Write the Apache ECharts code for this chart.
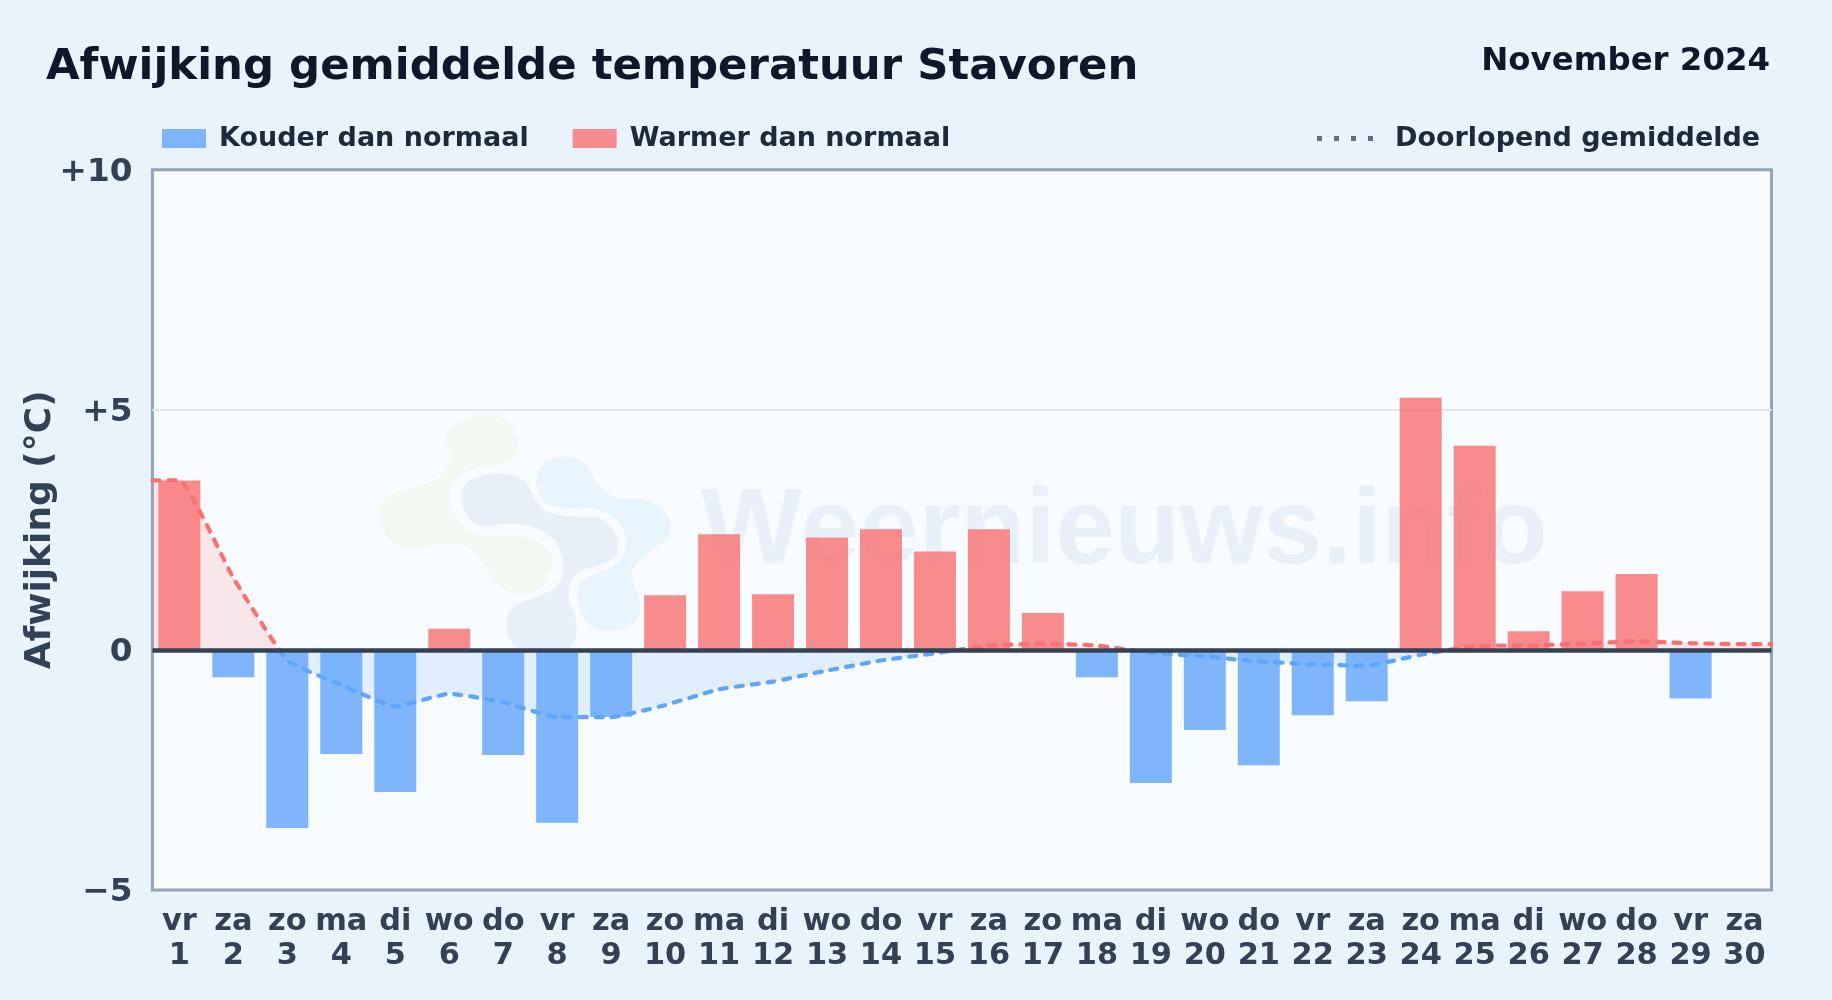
<!DOCTYPE html>
<html>
<head>
<meta charset="utf-8">
<style>html,body{margin:0;padding:0;background:#e8f3fc}#c{width:1832px;height:1000px}</style>
<script src="https://cdn.jsdelivr.net/npm/echarts@6/dist/echarts.min.js"></script>
</head>
<body>
<div id="c"></div>
<script>
const dayNames = ['vr','za','zo','ma','di','wo','do','vr','za','zo','ma','di','wo','do','vr','za','zo','ma','di','wo','do','vr','za','zo','ma','di','wo','do','vr','za'];
const dayNumbers = [1,2,3,4,5,6,7,8,9,10,11,12,13,14,15,16,17,18,19,20,21,22,23,24,25,26,27,28,29,30];
const coldValues = [null,-0.57,-3.71,-2.17,-2.96,null,-2.19,-3.60,-1.39,null,null,null,null,null,null,null,null,-0.57,-2.77,-1.67,-2.40,-1.36,-1.07,null,null,null,null,null,-1.01,null];
const warmValues = [3.53,null,null,null,null,0.44,null,null,null,1.14,2.41,1.16,2.34,2.51,2.05,2.51,0.77,null,null,null,null,null,null,5.25,4.25,0.39,1.22,1.58,null,null];
const runningMean = [3.53,1.5,-0.22,-0.73,-1.18,-0.91,-1.09,-1.40,-1.40,-1.15,-0.82,-0.66,-0.43,-0.22,-0.07,0.09,0.13,0.09,-0.06,-0.14,-0.24,-0.30,-0.33,-0.10,0.08,0.09,0.13,0.18,0.14,0.12];
const yTicks = {'10':'+10','5':'+5','0':'0','-5':'\u22125'};
const titleText = 'Afwijking gemiddelde temperatuur Stavoren';
const periodText = 'November 2024';
const legendCold = 'Kouder dan normaal';
const legendWarm = 'Warmer dan normaal';
const legendMean = 'Doorlopend gemiddelde';
const watermarkText = 'Weernieuws.info';
const logoGreen = [[260,100],[350,45],[440,60],[475,130],[450,185],[350,205],[290,235],[270,300],[300,370],[360,405],[470,405],[540,430],[580,480],[545,560],[470,580],[410,550],[370,490],[320,440],[250,430],[160,445],[90,420],[55,345],[90,285],[170,260],[240,230],[270,170]];
const logoSlate = [[305,280],[340,235],[420,222],[490,240],[520,290],[560,335],[640,350],[720,355],[770,410],[765,470],[700,500],[650,520],[625,580],[650,680],[620,745],[480,745],[440,680],[460,620],[530,590],[590,560],[610,500],[590,430],[530,385],[450,370],[370,378],[320,345]];
const logoSky = [[530,230],[560,185],[620,170],[680,195],[710,250],[770,295],[860,300],[925,350],[925,410],[880,445],[830,490],[815,530],[840,610],[825,665],[760,692],[690,675],[655,610],[660,550],[700,525],[770,490],[800,430],[770,360],[700,325],[620,325],[560,310],[535,270]];

const F = '"DejaVu Sans"';
const meanPoints = [[0, runningMean[0]]]
  .concat(runningMean.map((v, i) => [i + 0.5, v]))
  .concat([[30, runningMean[runningMean.length - 1]]]);
// rounded outline for the faint background logo
const roundOutline = pts => {
  const n = pts.length, out = [];
  for (let i = 0; i < n; i++) {
    const a = pts[(i - 1 + n) % n], b = pts[i], c = pts[(i + 1) % n], d = pts[(i + 2) % n];
    for (let k = 0; k < 8; k++) {
      const t = k / 8, t2 = t * t, t3 = t2 * t;
      out.push([0, 1].map(j => 0.5 * (2 * b[j] + (c[j] - a[j]) * t + (2 * a[j] - 5 * b[j] + 4 * c[j] - d[j]) * t2 + (3 * b[j] - a[j] - 3 * c[j] + d[j]) * t3)));
    }
  }
  return out;
};
const blob = (pts, fill) => ({
  type: 'polygon', x: 360, y: 400, scaleX: 1 / 3, scaleY: 1 / 3, silent: true,
  shape: { points: roundOutline(pts) }, style: { fill: fill }
});
const chart = echarts.init(document.getElementById('c'), null, { renderer: 'canvas' });
chart.setOption({
  animation: false,
  backgroundColor: '#e8f3fc',
  title: [
    { text: titleText, left: 46, top: 46.5, padding: 0, textStyle: { fontFamily: F, fontWeight: 'bold', fontSize: 43.4, color: '#0f172a' } },
    { text: periodText, right: 62, top: 46, padding: 0, textStyle: { fontFamily: F, fontWeight: 'bold', fontSize: 32.4, color: '#0f172a' } }
  ],
  legend: [
    { data: [{ name: legendCold, icon: 'rect' }, { name: legendWarm, icon: 'rect' }], left: 162, top: 125, padding: 0, itemWidth: 44, itemHeight: 19, itemGap: 44,
      textStyle: { fontFamily: F, fontWeight: 'bold', fontSize: 27, color: '#1e293b', padding: [0, 0, 0, 8] } },
    { data: [{ name: legendMean, icon: 'path://M0 0h5v5h-5zM17 0h5v5h-5zM34 0h5v5h-5zM51 0h5v5h-5z', itemStyle: { color: '#5f6f86', opacity: 1 } }],
      left: 1317, top: 125, padding: 0, itemWidth: 56, itemHeight: 5,
      textStyle: { fontFamily: F, fontWeight: 'bold', fontSize: 27, color: '#1e293b', padding: [0, 0, 0, 17] } }
  ],
  grid: { left: 152.4, top: 169.7, width: 1619.1, height: 720.3, show: true, backgroundColor: '#f8fbff', borderColor: '#94a3b8', borderWidth: 3 },
  xAxis: [
    { type: 'category', data: dayNames.map((d, i) => d + '\n' + dayNumbers[i]), position: 'bottom',
      axisLine: { show: false }, axisTick: { show: false }, splitLine: { show: false },
      axisLabel: { interval: 0, margin: 15, fontFamily: F, fontWeight: 'bold', fontSize: 30.4, lineHeight: 34, color: '#334155' } },
    { type: 'value', min: 0, max: 30, show: false }
  ],
  yAxis: {
    type: 'value', min: -5, max: 10, interval: 5,
    name: 'Afwijking (\u00b0C)', nameLocation: 'middle', nameRotate: 90, nameGap: 94, nameMoveOverlap: false,
    nameTextStyle: { fontFamily: F, fontWeight: 'bold', fontSize: 36, color: '#334155' },
    axisLine: { show: false }, axisTick: { show: false },
    splitLine: { show: true, showMinLine: false, showMaxLine: false, lineStyle: { color: '#e2e8f0', width: 2 } },
    axisLabel: { margin: 20, formatter: v => '{t|' + yTicks[String(v)] + '}',
      rich: { t: { padding: [5, 0, 0, 0], fontFamily: F, fontWeight: 'bold', fontSize: 32.7, color: '#334155' } } }
  },
  visualMap: { show: false, type: 'piecewise', seriesIndex: 2, dimension: 1,
    pieces: [{ min: -5, max: 0, color: '#60a5fa' }, { min: 0, max: 10, color: '#f87171' }] },
  graphic: { elements: [
    blob(logoGreen, '#f2f8f2'), blob(logoSlate, '#e7eff8'), blob(logoSky, '#e8f4fe'),
    { type: 'text', x: 701, y: 480, silent: true, style: { text: watermarkText, fontFamily: '"Liberation Sans"', fontWeight: 'bold', fontSize: 106.8, fill: '#e8f1fa' } }
  ] },
  series: [
    { name: legendCold, type: 'bar', xAxisIndex: 0, data: coldValues, barWidth: 42, barGap: '-100%', z: 2, itemStyle: { color: 'rgba(96,165,250,0.8)' } },
    { name: legendWarm, type: 'bar', xAxisIndex: 0, data: warmValues, barWidth: 42, z: 2, itemStyle: { color: 'rgba(248,113,113,0.8)' },
      markLine: { silent: true, symbol: 'none', label: { show: false }, lineStyle: { color: '#334155', width: 4.5, type: 'solid' }, data: [{ yAxis: 0 }] } },
    { name: legendMean, type: 'line', xAxisIndex: 1, data: meanPoints, smooth: 0.12, showSymbol: false, z: 3,
      lineStyle: { width: 4.2, type: [7, 9], cap: 'round' }, areaStyle: { opacity: 0.15, origin: 0 } }
  ]
});
</script>
</body>
</html>
